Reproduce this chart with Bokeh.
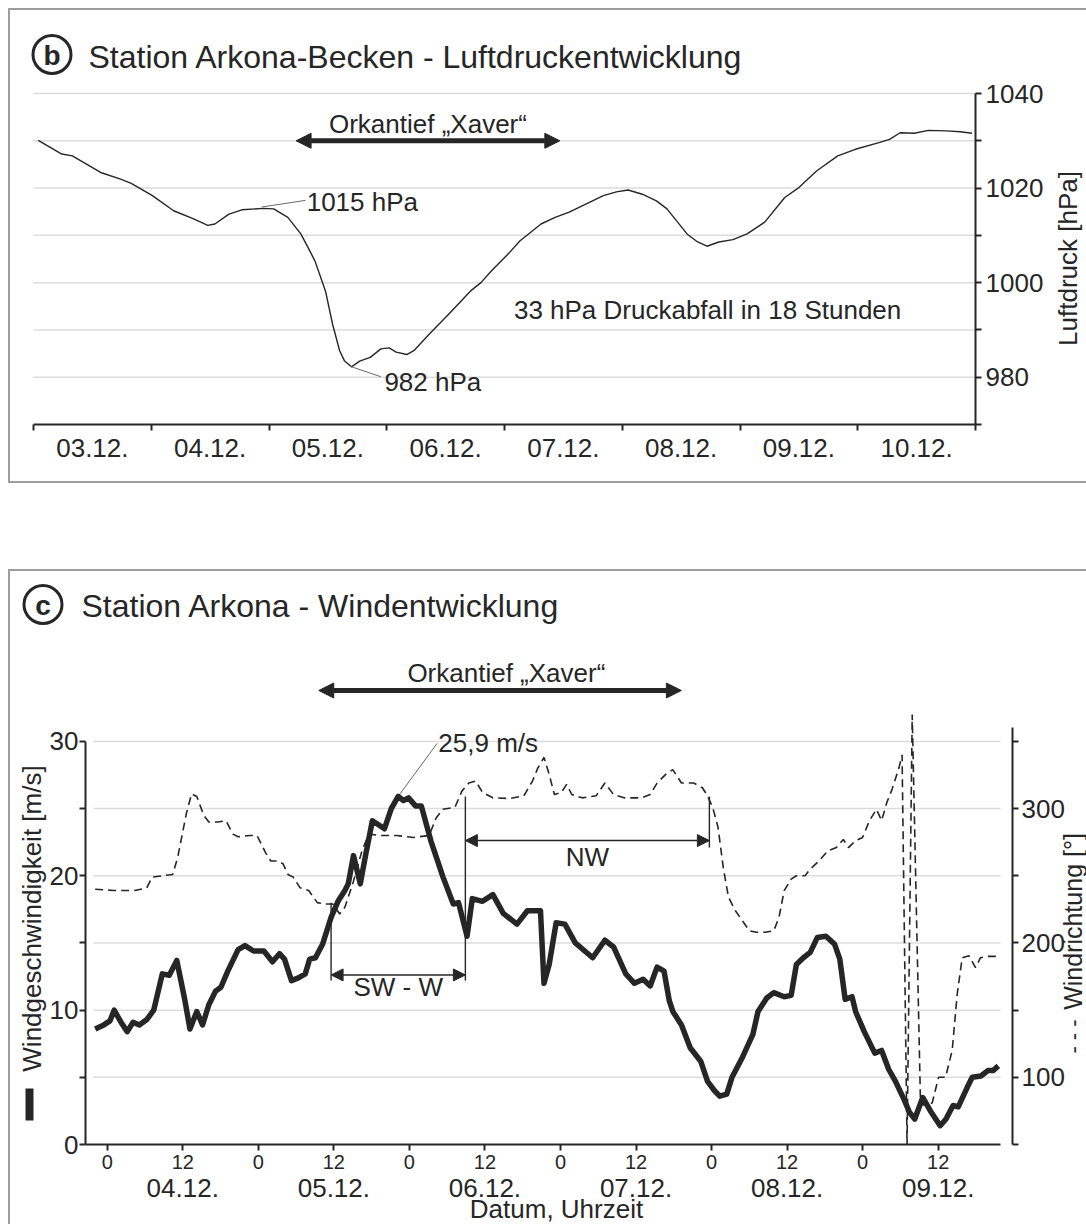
import math
from bokeh.plotting import figure
from bokeh.models import (Range1d, LinearAxis, FixedTicker, Label, Arrow,
                          NormalHead, BoxAnnotation, Spacer)
from bokeh.layouts import column
from bokeh.embed import file_html
from bokeh.resources import INLINE

FONT = "Liberation Sans"
INK = "#262626"
GRID = "#dcdcdc"
EDGE = "#9d9d9d"
LEAD = "#6a6a6a"

# ---------------- panel b data: air pressure (days since 03.12. 00:00) ----------------
p_days = [0.04, 0.24, 0.33, 0.57, 0.74, 0.83, 1.01, 1.19, 1.36, 1.48, 1.54, 1.66, 1.77, 1.95,
          2.04, 2.16, 2.27, 2.33, 2.39, 2.48, 2.54, 2.60, 2.64, 2.70, 2.77, 2.86, 2.95,
          3.02, 3.08, 3.17, 3.23, 3.36, 3.54, 3.71, 3.80, 3.89,
          4.04, 4.13, 4.31, 4.43, 4.55, 4.69, 4.84, 4.95,
          5.05, 5.17, 5.29, 5.38, 5.47, 5.55, 5.64, 5.72, 5.82, 5.94,
          6.06, 6.21, 6.38, 6.50, 6.65, 6.83, 6.98,
          7.18, 7.27, 7.36, 7.48, 7.60, 7.75, 7.87, 7.97]
p_hpa = [1030.1, 1027.2, 1026.8, 1023.3, 1021.9, 1021.0, 1018.4, 1015.2, 1013.5, 1012.1, 1012.4, 1014.5, 1015.4, 1015.7,
         1015.6, 1013.8, 1010.3, 1007.5, 1004.6, 998.2, 991.2, 985.6, 983.5, 982.2, 983.4, 984.2, 986.0,
         986.2, 985.3, 984.8, 985.6, 989.1, 993.7, 998.2, 1000.0, 1002.5,
         1006.3, 1008.8, 1012.4, 1013.8, 1014.9, 1016.6, 1018.4, 1019.2,
         1019.6, 1018.7, 1017.3, 1015.6, 1012.8, 1010.3, 1008.6, 1007.7, 1008.6, 1009.1,
         1010.3, 1012.8, 1018.0, 1020.1, 1023.6, 1026.8, 1028.2,
         1029.6, 1030.3, 1031.7, 1031.6, 1032.2, 1032.1, 1031.9, 1031.6]
b_day_edges = [0, 1, 2, 3, 4, 5, 6, 7, 8]
b_day_mids = [0.5, 1.5, 2.5, 3.5, 4.5, 5.5, 6.5, 7.5]
b_day_labels = ["03.12.", "04.12.", "05.12.", "06.12.", "07.12.", "08.12.", "09.12.", "10.12."]
b_major = [980, 1000, 1020, 1040]
b_minor = [970, 990, 1010, 1030]
b_grid_levels = [980, 990, 1000, 1010, 1020, 1030, 1040]
storm_b_days = [2.23, 4.47]

# ---------------- panel c data: wind (hours since 04.12. 00:00) ----------------
ws_hours = [-1.91, -0.54, 0.44, 1.10, 2.19, 3.18, 4.11, 5.10, 6.29, 7.39,
            8.75, 9.85, 11.05, 12.31, 13.14, 14.23, 15.14, 16.14, 17.20, 18.06,
            19.15, 20.79, 21.89, 23.24, 24.89, 26.25, 27.37, 28.16, 29.27, 30.37,
            31.46, 32.16, 33.08, 34.20, 35.56, 36.66, 37.75, 38.29, 39.12, 40.20,
            41.03, 42.12, 44.04, 45.12, 46.22, 47.05, 47.86, 48.97, 49.89, 51.41,
            53.34, 54.97, 55.80, 57.16, 57.99, 59.61, 61.26, 62.91, 65.09, 66.74,
            68.11, 68.82, 69.38, 70.20, 71.31, 72.70, 74.35, 77.11, 79.05, 80.43,
            82.37, 83.75, 85.13, 86.25, 87.34, 88.45, 89.28, 89.84, 91.22, 92.60,
            94.27, 95.36, 96.47, 97.30, 98.41, 99.24, 100.91, 102.56, 103.38, 104.76,
            105.88, 107.53, 108.64, 109.47, 110.58, 111.67, 112.79, 114.17, 115.55, 116.37,
            117.22, 118.31, 118.87, 120.25, 121.92, 123.01, 124.13, 125.21, 126.62, 127.43,
            128.27, 129.54, 130.76, 132.31, 133.24, 134.36, 135.18, 136.56, 137.40, 138.79,
            139.88, 140.71, 141.55]
ws_ms = [8.6, 8.9, 9.2, 10.0, 9.1, 8.4, 9.1, 8.9, 9.3, 10.0,
         12.7, 12.6, 13.7, 10.8, 8.6, 9.9, 8.9, 10.4, 11.4, 11.7,
         12.9, 14.5, 14.8, 14.4, 14.4, 13.6, 14.2, 13.8, 12.2, 12.4,
         12.7, 13.8, 13.9, 14.9, 16.9, 18.1, 18.9, 19.4, 21.5, 19.4,
         21.5, 24.1, 23.5, 25.0, 25.9, 25.6, 25.8, 25.2, 25.2, 22.6,
         19.9, 17.9, 18.0, 15.5, 18.3, 18.1, 18.6, 17.2, 16.4, 17.4,
         17.4, 17.4, 12.0, 13.4, 16.5, 16.4, 15.0, 13.9, 15.2, 14.7,
         12.7, 12.0, 12.3, 11.8, 13.2, 12.9, 10.7, 9.9, 8.9, 7.2,
         6.2, 4.7, 4.0, 3.6, 3.75, 5.0, 6.5, 8.2, 9.9, 10.9,
         11.3, 11.0, 11.1, 13.4, 13.9, 14.3, 15.4, 15.5, 14.9, 13.8,
         10.8, 11.0, 9.9, 8.4, 6.8, 7.0, 5.6, 4.7, 3.3, 2.4,
         1.9, 3.5, 2.5, 1.4, 1.9, 2.9, 2.8, 4.2, 5.0, 5.1,
         5.5, 5.5, 5.85]
wd_hours = [-1.91, 1.10, 4.38, 6.29, 7.12, 8.75, 10.40, 11.21, 12.60, 13.41,
            14.23, 15.33, 16.14, 17.52, 18.87, 19.97, 20.79, 22.71, 23.79, 25.17,
            25.98, 27.08, 27.91, 28.72, 29.54, 30.64, 32.00, 33.37, 34.74, 35.83,
            36.93, 37.75, 39.12, 40.49, 41.58, 43.22, 45.95, 48.68, 51.14, 52.24,
            53.34, 55.24, 56.34, 57.43, 58.53, 59.62, 61.26, 63.99, 66.18, 67.55,
            68.38, 69.38, 70.20, 71.03, 72.14, 72.97, 73.79, 75.46, 77.67, 79.05,
            80.43, 82.10, 84.86, 86.25, 87.34, 88.72, 89.84, 91.22, 93.15, 94.54,
            95.36, 96.20, 97.03, 97.86, 98.68, 99.79, 100.91, 102.00, 103.11, 104.50,
            105.88, 106.71, 107.53, 108.64, 109.47, 110.85, 111.67, 113.07, 114.45, 115.83,
            116.93, 117.75, 118.87, 119.98, 121.08, 122.19, 123.01, 123.84, 124.68, 125.78,
            126.26, 127.05, 127.87, 129.19, 130.25, 131.05, 132.05, 133.16, 134.22, 135.02,
            135.81, 136.87, 137.93, 138.72, 139.78, 141.63]
wd_deg = [240, 239, 239, 241, 249, 250, 251, 264, 297, 311,
          309, 295, 290, 290, 291, 281, 279, 280, 280, 267,
          261, 261, 259, 251, 249, 241, 239, 230, 229, 229,
          221.5, 226.5, 246, 269, 281, 280, 280, 278.5, 280, 293,
          299.5, 301, 313, 319, 320.5, 312, 308, 307.5, 309.5, 320.5,
          330, 338, 325.5, 310.5, 312, 318, 310.5, 308, 309.5, 319,
          310.5, 308, 308, 310.5, 319, 325.5, 329, 319, 319, 315.5,
          309.5, 300.5, 286, 256, 234, 224, 216.5, 209, 208, 208,
          209, 219, 239, 247.5, 250, 250, 255, 261, 268.5, 271,
          277, 271, 276, 278.5, 291, 299.5, 291, 304.5, 314.5, 330.5,
          340, 50, 370, 80, 79, 81, 100, 100, 120, 162,
          189, 190.5, 181.6, 189, 190, 190]
c_hour_ticks = [0, 12, 24, 36, 48, 60, 72, 84, 96, 108, 120, 132]
c_hour_labels = ["0", "12", "0", "12", "0", "12", "0", "12", "0", "12", "0", "12"]
c_date_pos = [12, 36, 60, 84, 108, 132]
c_date_labels = ["04.12.", "05.12.", "06.12.", "07.12.", "08.12.", "09.12."]
c_ms_major = [0, 10, 20, 30]
c_ms_minor = [5, 15, 25]
c_grid_levels = [5, 10, 15, 20, 25, 30]
c_deg_major = [100, 200, 300]
c_deg_minor = [50, 150, 250, 350]
storm_c_hours = [33.6, 91.2]
peak_hour, peak_ms = 46.22, 25.9
sectors = [("SW - W", 35.56, 56.89), ("NW", 56.89, 95.65)]
sector_line_x = [35.56, 56.89, 95.65]
sector_line_top = [18.0, 25.9, 25.9]
sector_line_bot = [12.2, 12.2, 22.1]

# ---------------- geometry (page pixels) ----------------
W = 1076
B_H, C_H = 471, 653
B_ORIGIN, C_ORIGIN = (10, 10), (10, 571)
# axis box of each panel in page pixels (left, right, top, bottom) and its data extent
B_BOX, b_xr, b_yr = (33, 975, 93, 424), (0.0, 8.0), (970.0, 1040.0)
C_BOX, c_xr, c_yr = (85, 1012, 740.9, 1144), (-3.45, 143.8), (0.0, 30.0)


def page_mapper(box, xr, yr):
    l, r, t, b = box
    fx = lambda X: xr[0] + (X - l) / (r - l) * (xr[1] - xr[0])
    fy = lambda Y: yr[1] - (Y - t) / (b - t) * (yr[1] - yr[0])
    return fx, fy


fxb, fyb = page_mapper(B_BOX, b_xr, b_yr)
fxc, fyc = page_mapper(C_BOX, c_xr, c_yr)


def make_fig(h, origin, fx, fy):
    ox, oy = origin
    p = figure(width=W, height=h, x_range=Range1d(fx(ox), fx(ox + W)),
               y_range=Range1d(fy(oy + h), fy(oy)),
               output_backend="svg", toolbar_location=None,
               x_axis_location=None, y_axis_location=None, title=None,
               min_border_left=0, min_border_right=0, min_border_top=0, min_border_bottom=0,
               outline_line_color=None, margin=(0, 0, 0, ox))
    p.grid.visible = False
    return p


def style_axis(ax, size, tick=6, standoff=3):
    ax.axis_line_color = INK
    ax.axis_line_width = 2
    ax.major_tick_line_color = INK
    ax.major_tick_line_width = 2
    ax.minor_tick_line_color = INK
    ax.minor_tick_line_width = 2
    ax.major_tick_in = 0
    ax.minor_tick_in = 0
    ax.major_tick_out = tick
    ax.minor_tick_out = tick
    ax.major_label_standoff = standoff
    ax.major_label_text_font = FONT
    ax.major_label_text_font_size = f"{size}px"
    ax.major_label_text_color = INK


def add_text(p, x, y, text, size, align="left", baseline="middle", angle=0.0, bold=False, color=INK):
    p.add_layout(Label(x=x, y=y, text=text, text_font=FONT, text_font_size=f"{size}px",
                       text_align=align, text_baseline=baseline, angle=angle,
                       text_color=color, text_font_style="bold" if bold else "normal"))


def badge(p, fx, fy, cxp, cyp, d, letter):
    p.add_layout(BoxAnnotation(left=fx(cxp - d / 2), right=fx(cxp + d / 2),
                               top=fy(cyp - d / 2), bottom=fy(cyp + d / 2),
                               fill_alpha=0, line_color=INK, line_alpha=1, line_width=3,
                               border_radius=int(round(d / 2))))
    add_text(p, fx(cxp), fy(cyp + 1), letter, 28, align="center", bold=True)


def dbl_arrow(p, x0, x1, y, width, size):
    head = dict(size=size, fill_color=INK, line_color=INK, line_width=1)
    p.add_layout(Arrow(start=NormalHead(**head), end=NormalHead(**head),
                       x_start=x0, y_start=y, x_end=x1, y_end=y,
                       line_color=INK, line_width=width))


def panel_border(p, bottom=True):
    parts = [f"-2px 0 0 0 {EDGE}", f"0 -2px 0 0 {EDGE}", f"-2px -2px 0 0 {EDGE}"]
    if bottom:
        parts += [f"0 2px 0 0 {EDGE}", f"-2px 2px 0 0 {EDGE}"]
    p.styles = {"box-shadow": ", ".join(parts)}


# ======================= panel b =======================
p1 = make_fig(B_H, B_ORIGIN, fxb, fyb)
panel_border(p1, bottom=True)

n = len(b_grid_levels)
p1.segment(x0=[b_xr[0]] * n, x1=[b_xr[1]] * n, y0=b_grid_levels, y1=b_grid_levels,
           line_color=GRID, line_width=1.5)

xa = LinearAxis(fixed_location=b_yr[0], bounds=b_xr,
                ticker=FixedTicker(ticks=b_day_mids, minor_ticks=b_day_edges),
                major_label_overrides=dict(zip(b_day_mids, b_day_labels)))
style_axis(xa, 26, tick=6, standoff=8)
xa.major_tick_out = 0
p1.add_layout(xa, "below")

ya = LinearAxis(fixed_location=b_xr[1], bounds=b_yr,
                ticker=FixedTicker(ticks=b_major, minor_ticks=b_minor))
style_axis(ya, 26, tick=6, standoff=4)
p1.add_layout(ya, "right")

p1.line(p_days, p_hpa, line_color=INK, line_width=1.4)

dbl_arrow(p1, storm_b_days[0], storm_b_days[1], 1030, 5, 15)
add_text(p1, sum(storm_b_days) / 2, fyb(123), "Orkantief \u201eXaver\u201c", 26, align="center")
p1.line([1.94, 2.31], [1016.0, 1017.4], line_color=LEAD, line_width=1)
add_text(p1, 2.32, 1017.1, "1015 hPa", 26)
p1.line([2.69, 2.95], [982.3, 980.1], line_color=LEAD, line_width=1)
add_text(p1, 2.98, 979.0, "982 hPa", 26)
add_text(p1, 4.08, 994.2, "33 hPa Druckabfall in 18 Stunden", 26)

badge(p1, fxb, fyb, 51.5, 54, 38, "b")
add_text(p1, fxb(88), fyb(56), "Station Arkona-Becken - Luftdruckentwicklung", 32)
add_text(p1, fxb(1067), fyb(258), "Luftdruck [hPa]", 26, align="center", angle=math.pi / 2)

# ======================= panel c =======================
p2 = make_fig(C_H, C_ORIGIN, fxc, fyc)
panel_border(p2, bottom=False)
y_lo, y_hi = p2.y_range.start, p2.y_range.end
p2.extra_y_ranges = {"dir": Range1d(y_lo * 10 + 50, y_hi * 10 + 50)}

n = len(c_grid_levels)
p2.segment(x0=[fxc(93)] * n, x1=[fxc(1000)] * n, y0=c_grid_levels, y1=c_grid_levels,
           line_color=GRID, line_width=1.5)

la = LinearAxis(fixed_location=c_xr[0], bounds=(0, 30),
                ticker=FixedTicker(ticks=c_ms_major, minor_ticks=c_ms_minor))
style_axis(la, 26, tick=6, standoff=1)
p2.add_layout(la, "left")

ra = LinearAxis(y_range_name="dir", fixed_location=c_xr[1], bounds=(50, 360),
                ticker=FixedTicker(ticks=c_deg_major, minor_ticks=c_deg_minor))
style_axis(ra, 26, tick=6, standoff=3)
p2.add_layout(ra, "right")

ba = LinearAxis(fixed_location=0, bounds=(c_xr[0], fxc(1000)),
                ticker=FixedTicker(ticks=c_hour_ticks),
                major_label_overrides=dict(zip(c_hour_ticks, c_hour_labels)))
style_axis(ba, 20, tick=6, standoff=4)
p2.add_layout(ba, "below")

p2.line(wd_hours, wd_deg, y_range_name="dir", line_dash="8 5", line_width=1.6, line_color=INK)
p2.line(ws_hours, ws_ms, line_width=5.5, line_color=INK, line_join="round")

p2.segment(x0=sector_line_x, y0=sector_line_top, x1=sector_line_x, y1=sector_line_bot,
           line_color=INK, line_width=1.4)
dbl_arrow(p2, sectors[0][1], sectors[0][2], 12.62, 1.6, 12)
add_text(p2, (sectors[0][1] + sectors[0][2]) / 2, 11.73, sectors[0][0], 26, align="center")
dbl_arrow(p2, sectors[1][1], sectors[1][2], 22.62, 1.6, 12)
add_text(p2, (sectors[1][1] + sectors[1][2]) / 2, 21.38, sectors[1][0], 26, align="center")

p2.line([peak_hour + 0.3, 52.4], [peak_ms + 0.2, 29.85], line_color=LEAD, line_width=1)
add_text(p2, 52.6, 29.9, "25,9 m/s", 26)

dbl_arrow(p2, storm_c_hours[0], storm_c_hours[1], fyc(690), 5, 15)
add_text(p2, sum(storm_c_hours) / 2 + 1.0, fyc(672), "Orkantief \u201eXaver\u201c", 26, align="center")

badge(p2, fxc, fyc, 42.5, 604, 38, "c")
add_text(p2, fxc(81), fyc(605), "Station Arkona - Windentwicklung", 32)

add_text(p2, fxc(31), fyc(918), "Windgeschwindigkeit [m/s]", 26, align="center", angle=math.pi / 2)
p2.add_layout(BoxAnnotation(left=fxc(25), right=fxc(33), top=fyc(1088), bottom=fyc(1120),
                            fill_color=INK, fill_alpha=1, line_alpha=0))
add_text(p2, fxc(1072), fyc(921), "Windrichtung [\u00b0]", 25, align="center", angle=math.pi / 2)
add_text(p2, fxc(1073), fyc(1036), "- - -", 22, align="center", angle=math.pi / 2)

for pos, lab in zip(c_date_pos, c_date_labels):
    add_text(p2, pos, fyc(1187.5), lab, 26, align="center")
add_text(p2, fxc(556), fyc(1208), "Datum, Uhrzeit", 26, align="center")

layout = column(Spacer(width=10, height=10), p1, Spacer(width=10, height=90), p2)
open("out.html", "w").write(file_html(layout, INLINE))
